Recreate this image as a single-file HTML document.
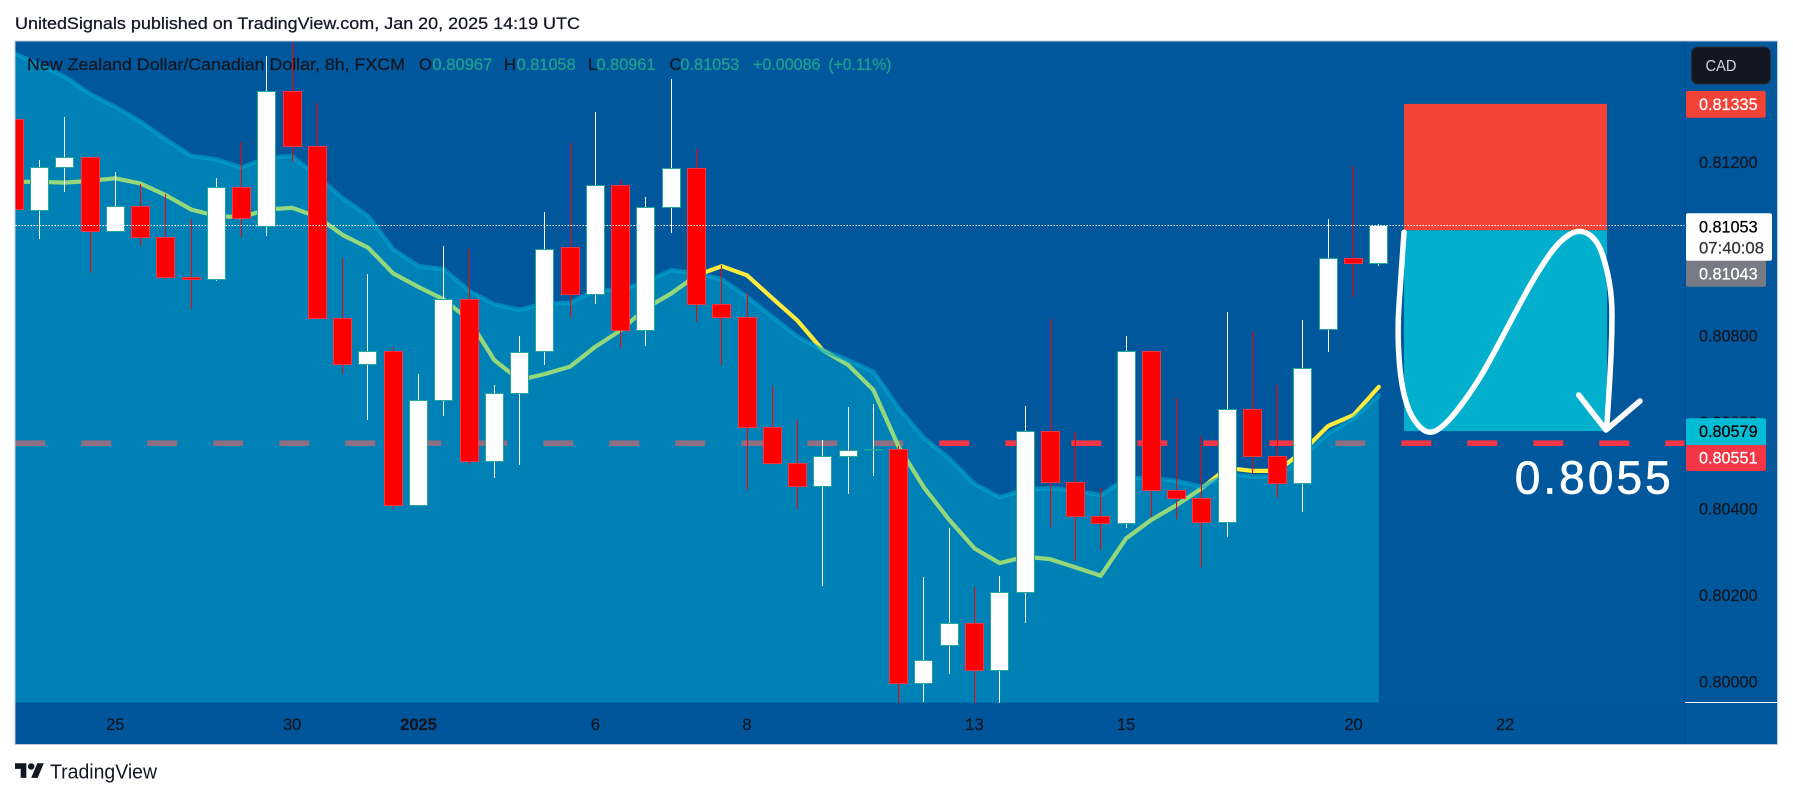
<!DOCTYPE html>
<html lang="en">
<head>
<meta charset="utf-8">
<title>NZD/CAD chart</title>
<style>
html,body{margin:0;padding:0;background:#fff;width:1793px;height:798px;overflow:hidden}
svg{display:block}
text{font-family:"Liberation Sans",sans-serif}
.dk{fill:#131722;stroke:#131722;stroke-width:.25}
.tl{fill:#22a08f;stroke:#22a08f;stroke-width:.25}
</style>
</head>
<body>
<svg id="chart" xmlns="http://www.w3.org/2000/svg" width="1793" height="798" viewBox="0 0 1793 798">
  <defs>
    <clipPath id="plotClip"><rect x="15.5" y="42" width="1669.5" height="660.7"/></clipPath>
  </defs>
  <text class="dk" x="15" y="29" font-size="17" textLength="565" lengthAdjust="spacingAndGlyphs">UnitedSignals published on TradingView.com, Jan 20, 2025 14:19 UTC</text>
  <rect x="15" y="41" width="1762.5" height="703.5" fill="#00579c" stroke="#c3cbdc" stroke-width="1"/>
  <rect x="15.5" y="702.7" width="1670" height="41.3" fill="#00559b"/>
  <g id="plot" clip-path="url(#plotClip)"></g>
  <line x1="1685" y1="41.5" x2="1685" y2="744" stroke="#004f90" stroke-width="1"/>
  <line x1="1685" y1="702.5" x2="1777" y2="702.5" stroke="#ffffff" stroke-width="1"/>
  <g id="priceAxis"></g>
  <g id="timeAxis"></g>

  <g font-size="16.5">
    <text class="dk" x="27" y="70" textLength="378" lengthAdjust="spacingAndGlyphs">New Zealand Dollar/Canadian Dollar, 8h, FXCM</text>
    <text class="dk" x="419" y="70">O</text>
    <text class="tl" x="432.4" y="70" textLength="60" lengthAdjust="spacingAndGlyphs">0.80967</text>
    <text class="dk" x="504" y="70">H</text>
    <text class="tl" x="516.6" y="70" textLength="59" lengthAdjust="spacingAndGlyphs">0.81058</text>
    <text class="dk" x="588" y="70">L</text>
    <text class="tl" x="596.5" y="70" textLength="59" lengthAdjust="spacingAndGlyphs">0.80961</text>
    <text class="dk" x="669.5" y="70">C</text>
    <text class="tl" x="680.4" y="70" textLength="59" lengthAdjust="spacingAndGlyphs">0.81053</text>
    <text class="tl" x="753" y="70" textLength="67.5" lengthAdjust="spacingAndGlyphs">+0.00086</text>
    <text class="tl" x="828.4" y="70" textLength="63" lengthAdjust="spacingAndGlyphs">(+0.11%)</text>
  </g>

  <g>
    <rect x="1691.5" y="47" width="79" height="37" rx="6" fill="#131722" stroke="#2a2e39"/>
    <text x="1705.5" y="71" font-size="16" fill="#d1d4dc" textLength="31" lengthAdjust="spacingAndGlyphs">CAD</text>
  </g>

  <g id="priceLabels"></g>

  <g>
    <g transform="translate(15,760) scale(0.81)" fill="#131722">
      <path d="M14 22H7V11H0V4h14v18zM28 22h-8l7.5-18h8L28 22z"/>
      <circle cx="20" cy="8" r="4"/>
    </g>
    <text x="50" y="778.5" font-size="20" fill="#131722" textLength="107" lengthAdjust="spacingAndGlyphs">TradingView</text>
  </g>
</svg>

<script>
// Price data (8h bars, oldest first)
const opens = [0.81298,0.81089,0.81188,0.81210,0.81041,0.81097,0.81027,0.80934,0.80930,0.81142,0.81052,0.81364,0.81237,0.80839,0.80733,0.80762,0.80407,0.80649,0.80883,0.80509,0.80666,0.80762,0.81003,0.80895,0.81147,0.80812,0.81096,0.81186,0.80872,0.80842,0.80588,0.80505,0.80451,0.80521,0.80536,0.80537,0.79996,0.80084,0.80135,0.80026,0.80207,0.80578,0.80460,0.80381,0.80366,0.80763,0.80442,0.80423,0.80367,0.80629,0.80520,0.80458,0.80814,0.80978,0.80967];
const highs = [0.81298,0.81205,0.81304,0.81210,0.81177,0.81150,0.81127,0.81068,0.81164,0.81248,0.81445,0.81490,0.81336,0.80980,0.80942,0.80774,0.80711,0.81006,0.80999,0.80685,0.80799,0.81085,0.81244,0.81316,0.81159,0.81120,0.81392,0.81231,0.80962,0.80897,0.80683,0.80605,0.80558,0.80635,0.80642,0.80544,0.80242,0.80355,0.80218,0.80244,0.80637,0.80839,0.80577,0.80447,0.80799,0.80766,0.80656,0.80568,0.80854,0.80809,0.80685,0.80836,0.81069,0.81191,0.81058];
const lows = [0.81090,0.81023,0.81132,0.80945,0.81041,0.81007,0.80931,0.80860,0.80926,0.81027,0.81030,0.81201,0.80839,0.80712,0.80605,0.80400,0.80407,0.80614,0.80501,0.80471,0.80501,0.80732,0.80841,0.80873,0.80772,0.80776,0.81037,0.80832,0.80732,0.80444,0.80501,0.80400,0.80222,0.80434,0.80475,0.79940,0.79953,0.80018,0.79940,0.79940,0.80136,0.80358,0.80279,0.80305,0.80355,0.80381,0.80376,0.80266,0.80334,0.80480,0.80425,0.80393,0.80761,0.80888,0.80961];
const closes = [0.81090,0.81187,0.81210,0.81041,0.81097,0.81027,0.80934,0.80930,0.81142,0.81070,0.81364,0.81237,0.80839,0.80733,0.80762,0.80407,0.80649,0.80883,0.80509,0.80665,0.80760,0.80999,0.80894,0.81146,0.80812,0.81096,0.81186,0.80872,0.80842,0.80588,0.80505,0.80450,0.80520,0.80535,0.80537,0.79996,0.80049,0.80135,0.80025,0.80207,0.80578,0.80460,0.80381,0.80366,0.80763,0.80442,0.80423,0.80367,0.80629,0.80520,0.80458,0.80724,0.80978,0.80966,0.81053];
// Indicator series
const fastAverage = [0.81155,0.81155,0.81153,0.81157,0.81163,0.81151,0.81124,0.81091,0.81076,0.81073,0.81091,0.81095,0.81074,0.81032,0.81003,0.80943,0.80912,0.80883,0.80836,0.80743,0.80697,0.80711,0.80728,0.80774,0.80812,0.80863,0.80897,0.80939,0.80960,0.80939,0.80886,0.80834,0.80766,0.80732,0.80674,0.80543,0.80449,0.80374,0.80308,0.80274,0.80289,0.80283,0.80264,0.80245,0.80331,0.80374,0.80408,0.80447,0.80494,0.80487,0.80487,0.80533,0.80591,0.80616,0.80681];
const upperBand = [0.81452,0.81425,0.81398,0.81358,0.81328,0.81294,0.81253,0.81215,0.81207,0.81188,0.81211,0.81214,0.81167,0.81117,0.81076,0.80999,0.80960,0.80953,0.80903,0.80872,0.80859,0.80874,0.80875,0.80905,0.80905,0.80924,0.80951,0.80943,0.80930,0.80889,0.80843,0.80797,0.80766,0.80743,0.80716,0.80632,0.80563,0.80516,0.80457,0.80426,0.80444,0.80447,0.80441,0.80431,0.80470,0.80471,0.80464,0.80450,0.80480,0.80474,0.80474,0.80521,0.80574,0.80608,0.80662];
// Axis labels
const priceTicks = [0.812,0.810,0.808,0.806,0.804,0.802,0.800];
const timeTickBars = [4,11,16,23,29,38,44,53,59];
const timeTickLabels = ["25","30","2025","6","8","13","15","20","22"];
const timeTickBold = [false,false,true,false,false,false,false,false,false];
// Levels
const lastPrice = 0.81053;
const targetLevel = 0.80551;
const stopPrice = 0.81335;
const entryPrice = 0.81043;
const takeProfitPrice = 0.80579;
// Trade tool spans these bar positions
const toolStartBar = 55.0;
const toolEndBar = 63.03;

const SVGNS = "http://www.w3.org/2000/svg";
function xOf(i){ return 14.2 + 25.27 * i; }
function yOf(p){ return 681.7 - (p - 0.8) * 43283; }
function snap(v){ return Math.floor(v) + 0.5; }
function mk(tag, parent, attrs){
  const el = document.createElementNS(SVGNS, tag);
  for (const k in attrs) el.setAttribute(k, attrs[k]);
  parent.appendChild(el);
  return el;
}
const plot = document.getElementById("plot");
const priceAxis = document.getElementById("priceAxis");
const timeAxis = document.getElementById("timeAxis");
const priceLabels = document.getElementById("priceLabels");
const BOTTOM = 702.7;

// Target dashed line (under the shaded area)
const levelY = yOf(targetLevel);
const dash = mk("line", plot, {x1:15.3,y1:levelY,x2:1685,y2:levelY,stroke:"#f23645","stroke-width":5.7,"stroke-dasharray":"30 36"});



// Fast average, passes beneath the shaded area
const fastPts = fastAverage.map((v,i)=>xOf(i).toFixed(1)+","+yOf(v).toFixed(1)).join(" ");
const fastLine = mk("polyline", plot, {points:fastPts,fill:"none",stroke:"#ffeb3b","stroke-width":4.2,"stroke-linejoin":"round","stroke-linecap":"round"});



// Shaded area beneath the upper band
const bandPts = upperBand.map((v,i)=>xOf(i).toFixed(1)+","+yOf(v).toFixed(1));
const areaPts = bandPts.join(" ")+" "+xOf(upperBand.length-1).toFixed(1)+","+BOTTOM+" "+xOf(0).toFixed(1)+","+BOTTOM;
const area = mk("polygon", plot, {points:areaPts,fill:"rgb(0,190,216)","fill-opacity":0.417});


const bandLine = mk("polyline", plot, {points:bandPts.join(" "),fill:"none",stroke:"#00a6cf","stroke-opacity":0.6,"stroke-width":4.4,"stroke-linejoin":"round","stroke-linecap":"round"});



// Candles
opens.forEach((o,i)=>{
  const c = closes[i], up = c >= o;
  const cx = snap(xOf(i));
  const g = mk("g", plot, {});
  
  
  const wick = mk("line", g, {x1:cx,x2:cx,y1:Math.round(yOf(highs[i])),y2:Math.round(yOf(lows[i])),stroke:up?"#ffffff":"#ff0000","stroke-width":1});
  
  
  const top = snap(yOf(Math.max(o,c))), bot = snap(yOf(Math.min(o,c)));
  const body = mk("rect", g, {x:cx-9,y:top,width:18,height:Math.max(bot-top,0.5),fill:up?"#ffffff":"#ff0000",stroke:up?"#26a69a":"#f23645","stroke-width":1});
  
  
});

// Trade tool zones
const toolX1 = xOf(toolStartBar), toolX2 = xOf(toolEndBar);
const stopZone = mk("rect", plot, {x:toolX1,y:yOf(stopPrice),width:toolX2-toolX1,height:yOf(entryPrice)-yOf(stopPrice),fill:"#f44336"});


const profitZone = mk("rect", plot, {x:toolX1,y:yOf(entryPrice),width:toolX2-toolX1,height:yOf(takeProfitPrice)-yOf(entryPrice),fill:"#02afcc"});



// Last price dotted line
const lastY = snap(yOf(lastPrice));
const lastLine = mk("line", plot, {x1:15.5,x2:1685,y1:lastY,y2:lastY,stroke:"#ffffff","stroke-width":1,"stroke-dasharray":"1.5 1.5"});



// Hand-drawn annotation path
const scribble = [[1404,232.3],[1400.7,281.7],[1397.5,325],[1399.5,371.7],[1406,405],[1416.7,425],[1430,434.5],[1445,425],[1461.7,405],[1480,378.3],[1500,341.7],[1520,303.3],[1540,268],[1560,240],[1580,228.5],[1597.5,240],[1607,268.3],[1612,298.3],[1612,331.7],[1610.7,365],[1606.7,428.3]];
let d = "M"+scribble[0].join(" ");
for (let i=1;i<scribble.length-1;i++){
  const mx=(scribble[i][0]+scribble[i+1][0])/2, my=(scribble[i][1]+scribble[i+1][1])/2;
  d += " Q"+scribble[i][0]+" "+scribble[i][1]+" "+mx.toFixed(1)+" "+my.toFixed(1);
}
d += " L"+scribble[scribble.length-1].join(" ");
const scribblePath = mk("path", plot, {d:d,fill:"none",stroke:"#ffffff","stroke-width":5.5,"stroke-linecap":"round","stroke-linejoin":"round"});


const arrow = mk("polyline", plot, {points:"1578.7,395 1606,430 1640,401",fill:"none",stroke:"#ffffff","stroke-width":5.5,"stroke-linecap":"round","stroke-linejoin":"round"});


const bigLabel = mk("text", plot, {x:1514.7,y:493.3,"font-size":46,fill:"#ffffff",stroke:"#ffffff","stroke-width":0.7,textLength:156,lengthAdjust:"spacing"});
bigLabel.textContent = "0.8055";



// Price ticks
priceTicks.forEach(p=>{
  const t = mk("text", priceAxis, {class:"dk",x:1699,y:yOf(p)+5.9,"font-size":16.5,textLength:58.6,lengthAdjust:"spacingAndGlyphs"});
  t.textContent = p.toFixed(5);
  
  
});
// Time ticks
timeTickBars.forEach((b,i)=>{
  const t = mk("text", timeAxis, {class:"dk",x:xOf(b),y:730,"font-size":16.5,"text-anchor":"middle","font-weight":timeTickBold[i]?"bold":"normal"});
  t.textContent = timeTickLabels[i];
  
  
});

// Price tags on the axis
function tag(y1,y2,x2,fill){ return mk("rect", priceLabels, {x:1686,y:y1,width:x2-1686,height:y2-y1,fill:fill,rx:2}); }
function tagText(txt,y,fill,w){ const t = mk("text", priceLabels, {x:1699,y:y,"font-size":16.5,fill:fill,stroke:fill,"stroke-width":0.25,textLength:w||58.6,lengthAdjust:"spacingAndGlyphs"}); t.textContent = txt; return t; }

const stopTag = tag(91,117.7,1765.7,"#f44336");


const stopText = tagText(stopPrice.toFixed(5),yOf(stopPrice)+5.9,"#ffffff");



const entryTag = tag(258,286.7,1766,"#787b86");


const entryText = tagText(entryPrice.toFixed(5),279.5,"#ffffff");



const lastTag = tag(213.3,260.7,1772,"#ffffff");


const lastText = tagText(lastPrice.toFixed(5),232.5,"#000000");


const countdown = tagText("07:40:08",253.5,"#333333",65);



const profitTag = tag(418.3,446,1766,"#00bcd4");


const profitText = tagText(takeProfitPrice.toFixed(5),437,"#000000");



const targetTag = tag(445,471,1766,"#f23645");


const targetText = tagText(targetLevel.toFixed(5),463.5,"#ffffff");


</script>
</body>
</html>
